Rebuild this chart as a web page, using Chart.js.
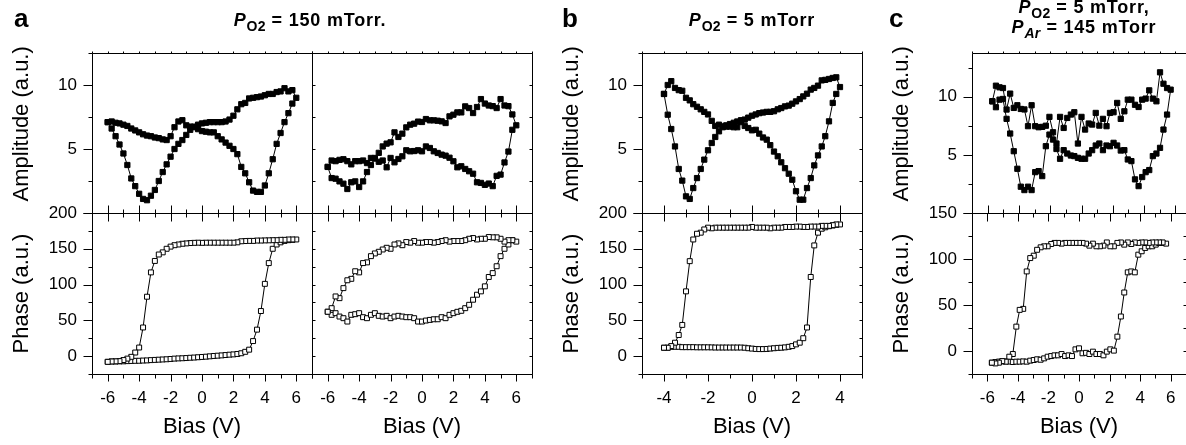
<!DOCTYPE html>
<html><head><meta charset="utf-8">
<script src="https://cdn.jsdelivr.net/npm/chart.js@4.4.0/dist/chart.umd.min.js"></script>
<style>
html,body{margin:0;padding:0;background:#fff;overflow:hidden;width:1186px;height:445px;}
#wrap{position:relative;width:1186px;height:445px;overflow:hidden;background:#fff;}
canvas{position:absolute;left:0;top:0;}
.t{position:absolute;font-family:"Liberation Sans",Arial,sans-serif;font-weight:bold;line-height:1;white-space:nowrap;color:#000;}
.ttl{font-size:18px;letter-spacing:0.8px;text-align:center;width:400px;}
.sub{font-size:14px;position:relative;top:5px;letter-spacing:0.3px;}
</style></head><body><div id="wrap">
<canvas id="c0" width="1200" height="445"></canvas>
<canvas id="c1" width="1200" height="445"></canvas>
<canvas id="c2" width="1200" height="445"></canvas>
<canvas id="c3" width="1200" height="445"></canvas>
<canvas id="c4" width="1200" height="445"></canvas>
<canvas id="c5" width="1200" height="445"></canvas>
<canvas id="c6" width="1200" height="445"></canvas>
<canvas id="c7" width="1200" height="445"></canvas>
<div class="t" style="left:14px;top:5px;font-size:26px">a</div>
<div class="t" style="left:562px;top:5px;font-size:26px">b</div>
<div class="t" style="left:889px;top:5px;font-size:26px">c</div>
<div class="t ttl" style="left:110px;top:11px"><i>P</i><span class="sub">O2</span> = 150 mTorr.</div>
<div class="t ttl" style="left:552px;top:11px"><i>P</i><span class="sub">O2</span> = 5 mTorr</div>
<div class="t ttl" style="left:884px;top:-2px"><i>P</i><span class="sub">O2</span> = 5 mTorr,</div>
<div class="t ttl" style="left:884px;top:18px"><i>P</i><span class="sub"><i>Ar</i></span> = 145 mTorr</div>
</div>
<script>
// ---------- data ----------
const biasA = [-6,-5.75,-5.5,-5.25,-5,-4.75,-4.5,-4.25,-4,-3.75,-3.5,-3.25,-3,-2.75,-2.5,-2.25,-2,-1.75,-1.5,-1.25,-1,-0.75,-0.5,-0.25,0,0.25,0.5,0.75,1,1.25,1.5,1.75,2,2.25,2.5,2.75,3,3.25,3.5,3.75,4,4.25,4.5,4.75,5,5.25,5.5,5.75,6];
const aLeftAmpUp = [7.1,7.15,7.05,7.0,6.9,6.8,6.6,6.45,6.3,6.15,6.05,6.0,5.9,5.85,5.75,5.7,6.0,6.7,7.15,7.25,6.85,6.75,6.7,6.55,6.4,6.35,6.3,6.3,6.0,5.75,5.5,5.25,5.0,4.6,3.6,3.1,2.4,1.75,1.65,1.65,2.15,3.1,4.2,5.4,6.25,7.1,7.8,8.55,9.0];
const aLeftAmpDown = [7.1,6.6,6.0,5.35,4.65,3.75,2.7,2.1,1.5,1.1,1.0,1.35,1.8,2.5,3.2,3.8,4.4,5.0,5.4,5.7,6.1,6.5,6.75,6.9,7.0,7.05,7.1,7.1,7.1,7.1,7.15,7.3,7.6,8.1,8.5,8.6,8.95,9.0,9.05,9.1,9.2,9.3,9.3,9.45,9.5,9.75,9.5,9.6,9.0];
const aLeftPhaseUp = [-8,-7.5,-7.5,-7.3,-7.3,-7,-6.8,-6.6,-6.5,-6.2,-6,-5.6,-5.3,-5,-4.7,-4.4,-4,-3.5,-3.2,-3,-2.7,-2.3,-2,-1.6,-1.2,-0.8,-0.3,0.2,0.6,1.0,1.5,2.0,2.4,3,4,6,9,21,37,63,101,130,150,156,159,161,162,162.5,163];
const aLeftPhaseDown = [-8,-7.5,-7.3,-7,-5.5,-3.5,-1,5,12,40,83,117,133,142,145,150,153,155,156,157,157.5,158,158.3,158.5,158.3,158.5,158.5,158.5,158.5,158.5,158.5,158.5,158.5,159,160.5,160.8,161,161,161.5,161.5,161.7,161.8,162,162,162.5,162.5,163,163,163];
const aRightAmpUp = [3.6,4.1,4.05,4.15,4.2,4.05,3.8,4.05,4.05,4.1,3.9,4.3,4.3,4.0,4.1,3.57,4.3,3.96,4.22,4.43,4.9,4.82,4.84,4.9,4.82,5.2,5.08,4.82,4.69,4.56,4.48,4.32,4.04,3.57,3.65,3.44,3.26,3.07,2.4,2.35,2.2,2.3,2.1,2.9,3.0,3.95,4.8,6.5,6.85];
const aRightAmpDown = [3.6,2.73,2.68,2.47,2.29,1.875,2.4,2.47,2.03,2.47,3.2,3.75,4.25,4.7,5.2,5.42,5.52,6.3,5.94,6.2,6.69,6.9,6.98,7.14,7.11,7.34,7.24,7.24,7.21,7.16,7.03,7.55,7.68,7.86,7.86,8.33,8.2,7.81,8.28,8.9,8.55,8.4,8.35,8.2,8.9,8.4,8.35,7.7,6.85];
const aRightPhaseUp = [62,57.7,60,55.3,53,48.3,57.7,58.6,60,54.4,53,57.7,60,56.3,55.3,56.3,53,55.3,56.3,55.3,54.4,54.4,53,48.3,48.3,49.7,50.6,51.5,51.5,54.4,53,57.7,60,61.9,63.3,67,71.7,78.8,85.8,90.5,97.5,110.6,116,125.6,139.7,150,156,162,160];
const aRightPhaseDown = [62,67,83.4,81,95,106,108,118.6,117,130,131,139.7,143.5,145.8,149,151.4,150,156,157.5,155,159.4,158.5,160.8,158.5,158.5,159.4,159.4,158.5,159.4,160.8,162,160,160.8,160.8,160.8,162,164,165,163,164,164,166.4,166,166,164,160,162,162,160];

const biasB = [-4,-3.83,-3.67,-3.5,-3.33,-3.17,-3,-2.83,-2.67,-2.5,-2.33,-2.17,-2,-1.83,-1.67,-1.5,-1.33,-1.17,-1,-0.83,-0.67,-0.5,-0.33,-0.17,0,0.17,0.33,0.5,0.67,0.83,1,1.17,1.33,1.5,1.67,1.83,2,2.17,2.33,2.5,2.67,2.83,3,3.17,3.33,3.5,3.67,3.83,4];
const bAmpUp = [9.3,10.0,10.3,9.77,9.6,9.55,9.0,8.8,8.5,8.3,8.1,7.9,7.7,7.2,6.8,6.9,6.77,6.75,6.75,6.7,6.7,7.1,6.8,6.64,6.46,6.5,6.2,5.9,5.73,5.3,4.8,4.43,3.96,3.5,3.07,2.6,1.7,1.04,1.04,1.95,2.73,3.72,4.5,5.2,6.0,7.16,8.6,9.3,9.84];
const bAmpDown = [9.3,7.68,6.56,5.2,3.44,2.53,1.3,1.1,1.95,2.73,3.44,4.17,4.9,5.47,5.94,6.38,6.7,6.85,6.95,7.05,7.15,7.25,7.3,7.45,7.6,7.7,7.8,7.85,7.9,7.9,7.95,8.1,8.2,8.33,8.39,8.54,8.72,8.9,9.11,9.32,9.64,9.77,9.95,10.36,10.4,10.47,10.55,10.6,9.84];
const bPhaseUp = [11.7,11.7,13,13,13,12.5,12.5,12.5,12.5,12.3,12.3,12.3,12.3,12.2,12,12,12,12,12,12,12,12,11.7,11,10.5,10,9.8,9.8,10,10.5,11,11.5,11.7,12.2,13,14,16.4,18.75,25,40,110.6,154.7,172.5,178,180,181.5,182.5,183.5,184];
const bPhaseDown = [11.7,11.7,14,18.75,29.5,43.6,90.5,132.7,163,171,172.5,177,179.5,178.6,179.5,179.5,179.5,179.5,179.5,179.5,179.5,179.5,179.5,179.5,180.5,179.5,179.5,179.5,179.5,178.6,179.5,179.5,179.5,180.5,180.5,180.5,181,181,180.5,180.5,181,181,181,182,182,182,183,184,184];

const biasC = [-5.7,-5.47,-5.24,-5.02,-4.79,-4.56,-4.33,-4.1,-3.88,-3.65,-3.42,-3.19,-2.96,-2.74,-2.51,-2.28,-2.05,-1.82,-1.6,-1.37,-1.14,-0.91,-0.68,-0.46,-0.23,0,0.23,0.46,0.68,0.91,1.14,1.37,1.6,1.82,2.05,2.28,2.51,2.74,2.96,3.19,3.42,3.65,3.88,4.1,4.33,4.56,4.79,5.02,5.24,5.47,5.7];
const cAmpUp = [9.6,10.94,10.8,10.74,8.89,10.26,9.03,9.26,8.94,8.9,7.46,9.26,7.46,7.37,7.4,7.5,8.26,6.94,5.5,4.66,5.4,5.11,4.94,4.89,4.74,4.66,4.66,5.11,5.4,5.8,5.97,5.4,5.8,5.74,6.03,5.8,5.37,5.4,4.6,4.46,2.89,2.31,3.09,3.51,3.69,4.89,5.11,5.6,7.17,8.46,10.6];
const cAmpDown = [9.6,9.09,9.74,9.8,8.09,6.83,5.31,3.8,2.26,1.97,2.26,1.97,3.51,3.6,3.17,5.74,6.74,6.31,5.97,8.26,7.31,8.17,8.46,8.66,5.97,8.26,7.17,7.69,7.6,8.6,7.51,8.09,7.46,8.6,8.66,9.46,8.09,8.74,9.74,9.74,9.3,9.11,9.74,9.83,10.54,9.83,9.6,12.09,11.11,10.74,10.6];
const cPhaseUp = [-12.7,-12,-11.5,-11.3,-11.3,-11.5,-12,-11.6,-11.6,-11.3,-11.6,-10.5,-9.8,-9,-9.5,-8,-6.2,-5.5,-4.7,-4.7,-3.3,-5.5,-4.7,-5.5,1.8,2.9,-2.5,-2,-3.3,-0.7,-3.3,-3.3,-4.7,-0.7,1.8,0.4,15.6,37.5,63.6,85.5,86.5,85.5,104.7,108.4,112,113.8,113.8,115.6,117.5,117.5,116.7];
const cPhaseDown = [-12.7,-13.5,-12.7,-11,-11.6,-6.2,-3.3,26.5,44.7,45.8,86.5,101,103.6,110,112.7,113.8,113.8,116.3,117.5,117.5,116.7,117.5,117.5,117.5,117.5,117.5,117.5,116.7,114.5,116.7,113.8,113.8,114.5,118,113.8,113.8,117.5,118,115.6,118,116.3,118,117.5,118,118,117.5,118,118,118,118,116.7];

// axis labels
const ampTitle = '\u00A0\u00A0\u00A0Amplitude (a.u.)';
const phaseTitle = 'Phase (a.u.)';
const biasTitle = 'Bias (V)';

// ---------- layout ----------
const FONT = '"Liberation Sans", Arial, sans-serif';
const TOP = 53, MID = 213, BOT = 374;
const AX_W = 92, AX_H = 71, CW = 1200, CH = 445;

function loop(bias, up, down) {
  const pts = [];
  for (let i = 0; i < bias.length; i++) pts.push({x: bias[i], y: up[i]});
  for (let i = bias.length - 2; i >= 0; i--) pts.push({x: bias[i], y: down[i]});
  return pts;
}

function framePlugin(o) {
  return {
    id: 'frame',
    afterDraw(chart) {
      const {ctx, chartArea: a} = chart;
      const xs = chart.scales.x, ys = chart.scales.y;
      const L = Math.round(a.left) + 0.5, R = Math.round(a.right) + 0.5;
      const T = Math.round(a.top) + 0.5, B = Math.round(a.bottom) + 0.5;
      ctx.save();
      ctx.strokeStyle = '#000';
      ctx.lineWidth = 1;
      ctx.beginPath();
      ctx.moveTo(L, T); ctx.lineTo(R, T);
      ctx.moveTo(L, B); ctx.lineTo(R, B);
      ctx.moveTo(L, T); ctx.lineTo(L, B);
      ctx.moveTo(R, T); ctx.lineTo(R, B);
      for (let v = o.xMin; v <= o.xMax + 1e-9; v += 1) {
        const px = Math.round(xs.getPixelForValue(v)) + 0.5;
        const major = Math.abs(v % 2) < 1e-9;
        if (o.row === 'amp') {
          ctx.moveTo(px, T); ctx.lineTo(px, T - 2);
          ctx.moveTo(px, B); ctx.lineTo(px, B - (major ? 8 : 4));
        } else {
          ctx.moveTo(px, T); ctx.lineTo(px, T + (major ? 8 : 4));
          ctx.moveTo(px, B); ctx.lineTo(px, B + (major ? 7 : 4));
        }
      }
      for (let v = o.yMin; v <= o.yMax + 1e-9; v += o.yStep) {
        const py = Math.round(ys.getPixelForValue(v)) + 0.5;
        const major = Math.abs(v % o.yMajor) < 1e-9;
        if (o.left === 'out') { ctx.moveTo(L, py); ctx.lineTo(L - (major ? 9 : 4), py); }
        else if (o.left === 'in') { ctx.moveTo(L, py); ctx.lineTo(L + 3, py); }
        if (o.right === 'in') { ctx.moveTo(R, py); ctx.lineTo(R - 3, py); }
      }
      ctx.stroke();
      ctx.restore();
    }
  };
}

function makeChart(id, o) {
  const r = o.rect;
  const isAmp = o.row === 'amp';
  new Chart(document.getElementById(id), {
    type: 'scatter',
    data: { datasets: [{
      data: o.data, showLine: true, borderColor: '#000', borderWidth: 1, tension: 0,
      pointStyle: 'rect', pointRadius: isAmp ? 3.7 : 3.5,
      pointBackgroundColor: isAmp ? '#000' : '#fff', pointBorderColor: '#000', pointBorderWidth: 1,
      pointHoverRadius: 0
    }]},
    options: {
      responsive: false, animation: false, devicePixelRatio: 1,
      events: [],
      layout: { padding: { left: r.l - AX_W, top: r.t, right: CW - r.r, bottom: CH - r.b - AX_H } },
      plugins: { legend: { display: false }, tooltip: { enabled: false } },
      scales: {
        x: {
          type: 'linear', min: o.xMin, max: o.xMax,
          grid: { display: false, drawTicks: false }, border: { display: false },
          ticks: {
            display: o.xLabels, stepSize: 1, autoSkip: false, maxRotation: 0, padding: 14,
            color: '#000', font: { family: FONT, size: 17 },
            callback: v => (Math.abs(v % 2) < 1e-9 && Math.abs(v) < o.xMax) ? String(v) : ''
          },
          title: { display: o.xLabels, text: biasTitle, color: '#000',
                   font: { family: FONT, size: 22 }, padding: { top: 0, bottom: 5 } },
          afterFit: s => { s.height = AX_H; }
        },
        y: {
          type: 'linear', min: o.yMin, max: o.yMax,
          grid: { display: false, drawTicks: false }, border: { display: false },
          ticks: {
            display: o.yLabels, stepSize: o.yStep, autoSkip: false, padding: 15,
            color: '#000', font: { family: FONT, size: 17 },
            callback: v => {
              if (Math.abs(v % o.yMajor) > 1e-9) return '';
              if (isAmp && v === 0) return '';
              return String(v);
            }
          },
          title: { display: o.yLabels, text: isAmp ? ampTitle : phaseTitle, color: '#000',
                   font: { family: FONT, size: 22 }, padding: { top: 9, bottom: 0 } },
          afterFit: s => { s.width = AX_W; }
        }
      }
    },
    plugins: [framePlugin(o)]
  });
}

const cols = [
  { l: 92, r: 312, xMin: -7, xMax: 7, left: 'out', right: 'none', yLabels: true },
  { l: 312, r: 532, xMin: -7, xMax: 7, left: 'in', right: 'in', yLabels: false },
  { l: 642, r: 862, xMin: -5, xMax: 5, left: 'out', right: 'in', yLabels: true },
  { l: 972, r: 1191, xMin: -7, xMax: 7, left: 'out', right: 'in', yLabels: true }
];
const ampData = [
  loop(biasA, aLeftAmpUp, aLeftAmpDown),
  loop(biasA, aRightAmpUp, aRightAmpDown),
  loop(biasB, bAmpUp, bAmpDown),
  loop(biasC, cAmpUp, cAmpDown)
];
const phaseData = [
  loop(biasA, aLeftPhaseUp, aLeftPhaseDown),
  loop(biasA, aRightPhaseUp, aRightPhaseDown),
  loop(biasB, bPhaseUp, bPhaseDown),
  loop(biasC, cPhaseUp, cPhaseDown)
];
const ampMax = [12.5, 12.5, 12.5, 13.75];
const phaseMax = [200, 200, 200, 150];

cols.forEach((c, i) => {
  makeChart('c' + i, {
    row: 'amp', rect: { l: c.l, r: c.r, t: TOP, b: MID },
    xMin: c.xMin, xMax: c.xMax, yMin: 0, yMax: ampMax[i], yStep: 2.5, yMajor: 5,
    left: c.left, right: c.right, yLabels: c.yLabels, xLabels: false, data: ampData[i]
  });
  makeChart('c' + (i + 4), {
    row: 'phase', rect: { l: c.l, r: c.r, t: MID, b: BOT },
    xMin: c.xMin, xMax: c.xMax, yMin: -25, yMax: phaseMax[i], yStep: 25, yMajor: 50,
    left: c.left, right: c.right, yLabels: c.yLabels, xLabels: true, data: phaseData[i]
  });
});
</script>
</body></html>
